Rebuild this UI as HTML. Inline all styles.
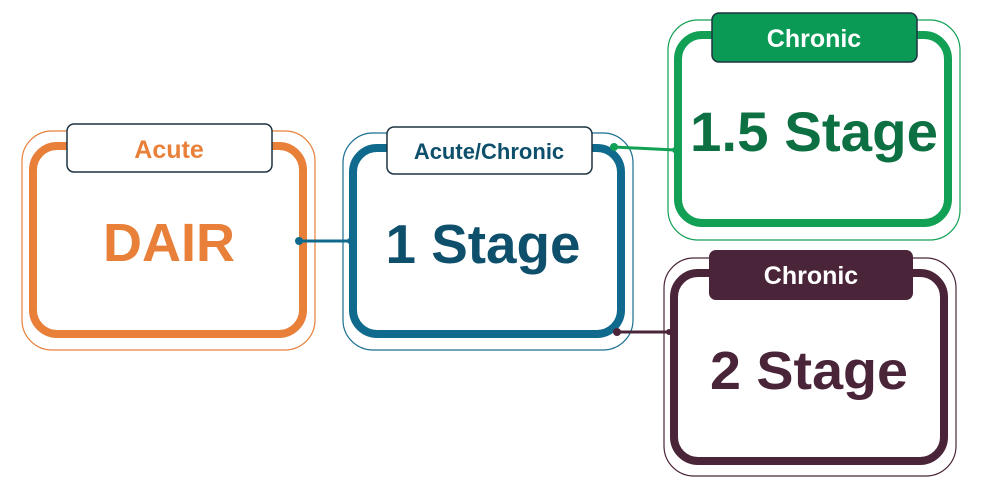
<!DOCTYPE html>
<html><head><style>
body{margin:0;background:#fff;}
svg{display:block;font-family:"Liberation Sans",sans-serif;font-weight:bold;}
</style></head><body>
<svg width="985" height="486" viewBox="0 0 985 486">
<!-- DAIR -->
<rect x="22" y="131" width="293" height="219" rx="30" fill="none" stroke="#e8803a" stroke-width="1.2"/>
<rect x="33" y="146" width="270" height="188" rx="24" fill="#fff" stroke="#e8803a" stroke-width="8"/>
<rect x="67" y="124" width="205" height="48" rx="7" fill="#fff" stroke="#1d3342" stroke-width="1.5"/>
<text x="169" y="158" text-anchor="middle" font-size="25" fill="#e8803a">Acute</text>
<text x="169" y="261" text-anchor="middle" font-size="54" fill="#e8803a">DAIR</text>
<!-- 1 Stage -->
<rect x="343" y="133" width="290" height="217" rx="30" fill="none" stroke="#1a6f91" stroke-width="1.2"/>
<rect x="353" y="148" width="268" height="186" rx="24" fill="#fff" stroke="#0f6a8e" stroke-width="8"/>
<rect x="387" y="127" width="205" height="47" rx="7" fill="#fff" stroke="#1d3342" stroke-width="1.5"/>
<text x="489" y="159" text-anchor="middle" font-size="22" fill="#0e4f6c">Acute/Chronic</text>
<text x="483" y="263" text-anchor="middle" font-size="55" fill="#0e4f6c" textLength="195" lengthAdjust="spacingAndGlyphs">1 Stage</text>
<!-- 1.5 Stage -->
<rect x="668" y="20" width="292" height="220" rx="30" fill="none" stroke="#12a055" stroke-width="1.2"/>
<rect x="678" y="35" width="270" height="188" rx="24" fill="#fff" stroke="#12a055" stroke-width="8"/>
<rect x="712" y="13" width="205" height="49" rx="7" fill="#0a9a55" stroke="#1d3342" stroke-width="1.5"/>
<text x="814" y="47" text-anchor="middle" font-size="25" fill="#fff">Chronic</text>
<text x="814" y="151" text-anchor="middle" font-size="56" fill="#0d7042" textLength="248" lengthAdjust="spacingAndGlyphs">1.5 Stage</text>
<!-- 2 Stage -->
<rect x="664" y="258" width="292" height="218" rx="30" fill="none" stroke="#4a2539" stroke-width="1.2"/>
<rect x="674" y="273" width="270" height="188" rx="24" fill="#fff" stroke="#4a2539" stroke-width="8"/>
<rect x="709" y="250" width="204" height="50" rx="7" fill="#4a2539"/>
<text x="811" y="284" text-anchor="middle" font-size="25" fill="#fff">Chronic</text>
<text x="809" y="389" text-anchor="middle" font-size="54" fill="#4a2539" textLength="198" lengthAdjust="spacingAndGlyphs">2 Stage</text>
<!-- connectors -->
<line x1="299" y1="241" x2="350" y2="241" stroke="#0f6a8e" stroke-width="3"/>
<circle cx="299" cy="241" r="4" fill="#0f6a8e"/><circle cx="350" cy="241" r="3" fill="#0f6a8e"/>
<line x1="614" y1="147" x2="675" y2="150" stroke="#12a055" stroke-width="3"/>
<circle cx="614" cy="147" r="4" fill="#12a055"/><circle cx="675" cy="150" r="3" fill="#12a055"/>
<line x1="617" y1="332" x2="669" y2="332" stroke="#4a2539" stroke-width="3"/>
<circle cx="617" cy="332" r="4" fill="#4a2539"/><circle cx="669" cy="332" r="3" fill="#4a2539"/>
</svg>
</body></html>
